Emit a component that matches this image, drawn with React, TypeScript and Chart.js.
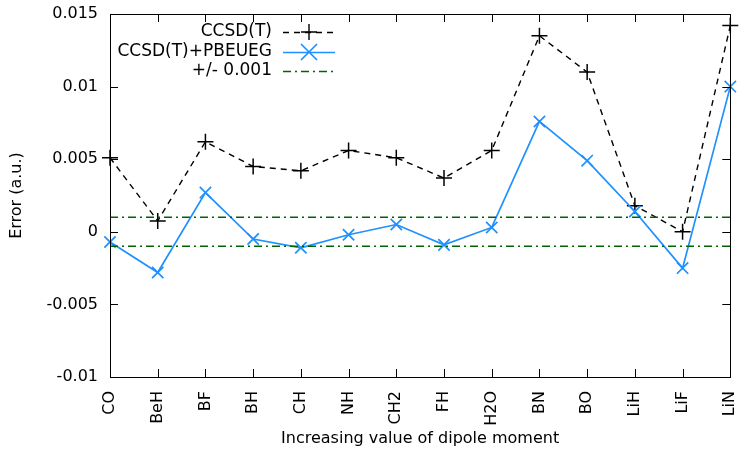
import React, { useEffect, useRef } from "react";
import { Chart, registerables } from "chart.js";

Chart.register(...registerables);

const categories = ["CO", "BeH", "BF", "BH", "CH", "NH", "CH2", "FH", "H2O", "BN", "BO", "LiH", "LiF", "LiN"];
const ccsdt = [0.0051, 0.00075, 0.0062, 0.0045, 0.0042, 0.0056, 0.0051, 0.0037, 0.0056, 0.0135, 0.011, 0.0018, 0.0, 0.0142];
const pbeueg = [-0.0007, -0.0028, 0.0027, -0.0005, -0.0011, -0.0002, 0.0005, -0.0009, 0.0003, 0.0076, 0.0049, 0.0014, -0.0025, 0.01];
const threshold = 0.001;
const upperBand = categories.map(() => threshold);
const lowerBand = categories.map(() => -threshold);
const yMin = -0.01;
const yMax = 0.015;
const yStep = 0.005;

const FONT = "'DejaVu Sans', sans-serif";
const BLUE = "#1e90ff";
const GREEN = "#006400";
const DASH = [6, 5];
const DASHDOT = [8, 4, 2, 4];

const legendItems = [
  { label: "CCSD(T)", color: "#000", dash: DASH, marker: "plus" },
  { label: "CCSD(T)+PBEUEG", color: BLUE, dash: [] as number[], marker: "x" },
  { label: "+/- 0.001", color: GREEN, dash: DASHDOT, marker: "" },
];

const framePlugin = {
  id: "frame",
  afterDraw(chart: any) {
    const { ctx, chartArea: a, scales } = chart;
    ctx.save();
    ctx.strokeStyle = "#000";
    ctx.lineWidth = 1;
    ctx.setLineDash([]);
    ctx.strokeRect(Math.round(a.left) + 0.5, Math.round(a.top) + 0.5, Math.round(a.right - a.left), Math.round(a.bottom - a.top));
    const tl = 8;
    ctx.beginPath();
    categories.forEach((_, i) => {
      const x = Math.round(scales.x.getPixelForValue(i)) + 0.5;
      ctx.moveTo(x, a.bottom);
      ctx.lineTo(x, a.bottom - tl);
      ctx.moveTo(x, a.top);
      ctx.lineTo(x, a.top + tl);
    });
    for (let v = yMin; v <= yMax + 1e-9; v += yStep) {
      const y = Math.round(scales.y.getPixelForValue(v)) + 0.5;
      ctx.moveTo(a.left, y);
      ctx.lineTo(a.left + tl, y);
      ctx.moveTo(a.right, y);
      ctx.lineTo(a.right - tl, y);
    }
    ctx.stroke();

    // legend
    ctx.font = `17px ${FONT}`;
    ctx.textAlign = "right";
    ctx.textBaseline = "middle";
    const textX = 272;
    const x0 = 283;
    const x1 = 335;
    const ys = [32, 52, 71];
    legendItems.forEach((it, i) => {
      const y = ys[i];
      ctx.fillStyle = "#000";
      ctx.fillText(it.label, textX, y);
      ctx.strokeStyle = it.color;
      ctx.lineWidth = it.color === "#000" ? 1.4 : 1.7;
      ctx.setLineDash(it.dash);
      ctx.beginPath();
      ctx.moveTo(x0, y + 0.5);
      ctx.lineTo(x1, y + 0.5);
      ctx.stroke();
      ctx.setLineDash([]);
      const cx = (x0 + x1) / 2;
      const r = 8;
      ctx.beginPath();
      if (it.marker === "plus") {
        ctx.moveTo(cx - r, y);
        ctx.lineTo(cx + r, y);
        ctx.moveTo(cx, y - r);
        ctx.lineTo(cx, y + r);
      } else if (it.marker === "x") {
        ctx.moveTo(cx - r, y - r);
        ctx.lineTo(cx + r, y + r);
        ctx.moveTo(cx - r, y + r);
        ctx.lineTo(cx + r, y - r);
      }
      ctx.stroke();
    });
    ctx.restore();
  },
};

export default function App() {
  const ref = useRef<HTMLCanvasElement>(null);
  useEffect(() => {
    document.body.style.margin = "0";
    const chart = new Chart(ref.current!, {
      type: "line",
      data: {
        labels: categories,
        datasets: [
          {
            label: "+/- 0.001",
            data: upperBand,
            borderColor: GREEN,
            borderWidth: 1.5,
            borderDash: DASHDOT,
            pointRadius: 0,
            fill: false,
          },
          {
            label: "-0.001",
            data: lowerBand,
            borderColor: GREEN,
            borderWidth: 1.5,
            borderDash: DASHDOT,
            pointRadius: 0,
            fill: false,
          },
          {
            label: "CCSD(T)+PBEUEG",
            data: pbeueg,
            borderColor: BLUE,
            backgroundColor: BLUE,
            borderWidth: 1.7,
            pointStyle: "crossRot",
            pointRadius: 8,
            pointBorderWidth: 1.7,
            pointBorderColor: BLUE,
            fill: false,
          },
          {
            label: "CCSD(T)",
            data: ccsdt,
            borderColor: "#000",
            backgroundColor: "#000",
            borderWidth: 1.4,
            borderDash: DASH,
            pointStyle: "cross",
            pointRadius: 8,
            pointBorderWidth: 1.5,
            pointBorderColor: "#000",
            fill: false,
          },
        ],
      },
      options: {
        animation: false,
        responsive: false,
        layout: { padding: { top: 14, right: 3, left: 0, bottom: 0 } },
        plugins: { legend: { display: false }, tooltip: { enabled: false } },
        scales: {
          x: {
            type: "category",
            offset: false,
            grid: { display: false },
            border: { display: false },
            ticks: {
              autoSkip: false,
              minRotation: 90,
              maxRotation: 90,
              padding: 6,
              color: "#000",
              font: { family: FONT, size: 16 },
            },
            title: {
              display: true,
              text: "Increasing value of dipole moment",
              color: "#000",
              font: { family: FONT, size: 16 },
              padding: { top: 4, bottom: 2 },
            },
            afterFit(scale: any) {
              scale.height = 73;
              scale.paddingLeft = 0;
              scale.paddingRight = 0;
            },
          },
          y: {
            min: yMin,
            max: yMax,
            grid: { display: false },
            border: { display: false },
            ticks: {
              stepSize: yStep,
              padding: 4,
              color: "#000",
              font: { family: FONT, size: 16 },
              callback: (v: any) => String(Number(Number(v).toFixed(3))),
            },
            title: {
              display: true,
              text: "Error (a.u.)",
              color: "#000",
              font: { family: FONT, size: 16 },
              padding: { top: 7, bottom: 0 },
            },
            afterFit(scale: any) {
              scale.width = 110;
              scale.paddingTop = 0;
              scale.paddingBottom = 0;
            },
          },
        },
      },
      plugins: [framePlugin],
    });
    return () => chart.destroy();
  }, []);
  return (
    <div style={{ position: "absolute", left: 0, top: 0, width: 740, height: 450 }}>
      <canvas ref={ref} width={740} height={450} style={{ width: 740, height: 450 }} />
    </div>
  );
}
